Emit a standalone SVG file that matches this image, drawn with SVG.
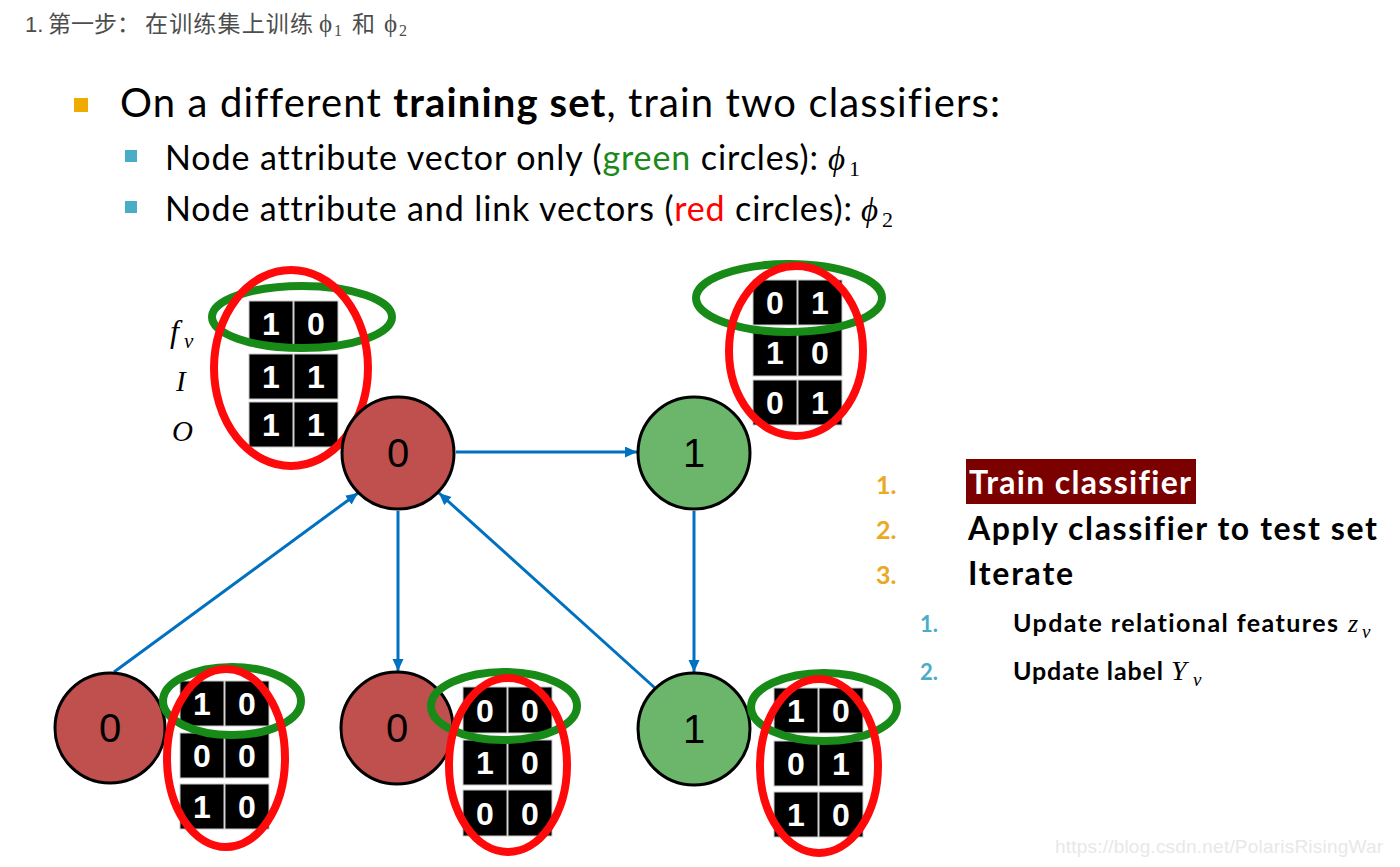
<svg xmlns="http://www.w3.org/2000/svg" width="1400" height="867" viewBox="0 0 1400 867">
<defs>
<style>
.hdr{font-family:"Liberation Sans","Noto Sans CJK SC",sans-serif;font-size:22px;fill:#4d4d4d}
.hdrcjk{font-family:"Noto Sans CJK SC",sans-serif;font-size:23px;fill:#4d4d4d}
.math{font-family:"Liberation Serif","DejaVu Serif",serif;font-style:italic}
.up{font-style:normal}
.slide{font-family:Lato,"Open Sans",sans-serif;fill:#000;font-variant-ligatures:none}
.b{font-weight:bold}
.num{font-family:Lato,"Open Sans",sans-serif;font-weight:bold}
.cell{fill:#000;stroke:#c8c8c8;stroke-width:1}
.dg{font-family:"Liberation Sans",Arial,sans-serif;font-weight:bold;font-size:32px;fill:#fff;text-anchor:middle}
.nl{font-family:"Liberation Sans",Arial,sans-serif;font-size:40px;fill:#000;text-anchor:middle}
.nr{fill:#C0504D;stroke:#000;stroke-width:3}
.ng{fill:#6BB66B;stroke:#000;stroke-width:3}
.eg{fill:none;stroke:#188A18;stroke-width:8}
.er{fill:none;stroke:#FF0A0A;stroke-width:8}
.edge{fill:none;stroke:#0070C0;stroke-width:3}
</style>
<marker id="arr" markerUnits="userSpaceOnUse" markerWidth="14" markerHeight="12" refX="12" refY="5.5" orient="auto">
<path d="M0,0 L12,5.5 L0,11 z" fill="#0070C0"/>
</marker>
</defs>
<rect width="1400" height="867" fill="#fff"/>

<g id="header">
<text class="hdr" x="25" y="32">1.</text>
<text class="hdrcjk" x="48" y="32">第一步：</text>
<text class="hdrcjk" x="145" y="32" textLength="168">在训练集上训练</text>
<text class="math up" x="319" y="32" font-size="25" fill="#4d4d4d">ϕ</text>
<text class="math up" x="334" y="36" font-size="16" fill="#4d4d4d">1</text>
<text class="hdrcjk" x="352" y="32">和</text>
<text class="math up" x="384" y="32" font-size="25" fill="#4d4d4d">ϕ</text>
<text class="math up" x="399" y="36" font-size="16" fill="#4d4d4d">2</text>
</g>

<g id="bullets">
<rect x="74" y="98" width="14" height="14" fill="#F0AB00"/>
<text class="slide" x="120" y="117" font-size="40" textLength="880">On a different <tspan class="b">training set</tspan>, train two classifiers:</text>
<rect x="125" y="150" width="12" height="12" fill="#4BACC6"/>
<text class="slide" x="165" y="170" font-size="34" textLength="653">Node attribute vector only (<tspan fill="#1A8A1A">green</tspan> circles):</text>
<text class="math" x="828" y="170" font-size="33">ϕ</text>
<text class="math up" x="849" y="176" font-size="22">1</text>
<rect x="125" y="201" width="12" height="12" fill="#4BACC6"/>
<text class="slide" x="165" y="221" font-size="34" textLength="687">Node attribute and link vectors (<tspan fill="#FF0000">red</tspan> circles):</text>
<text class="math" x="861" y="221" font-size="33">ϕ</text>
<text class="math up" x="882" y="227" font-size="22">2</text>
</g>

<g id="steps">
<text class="num" x="876" y="494" font-size="25" fill="#EBA821">1.</text>
<rect x="966" y="459" width="230" height="45" fill="#7B0000"/>
<text class="slide b" x="969" y="494" font-size="32" style="fill:#fff" textLength="222">Train classifier</text>
<text class="num" x="876" y="539" font-size="25" fill="#EBA821">2.</text>
<text class="slide b" x="968" y="540" font-size="32" textLength="409">Apply classifier to test set</text>
<text class="num" x="876" y="584" font-size="25" fill="#EBA821">3.</text>
<text class="slide b" x="968" y="585" font-size="32" textLength="105">Iterate</text>
<text class="num" x="920" y="632" font-size="22" fill="#4BACC6">1.</text>
<text class="slide b" x="1013" y="632" font-size="25" textLength="325">Update relational features</text>
<text class="math" x="1348" y="632" font-size="26">z</text>
<text class="math" x="1362" y="638" font-size="19">v</text>
<text class="num" x="920" y="680" font-size="22" fill="#4BACC6">2.</text>
<text class="slide b" x="1013" y="680" font-size="25" textLength="150">Update label</text>
<text class="math" x="1171" y="680" font-size="28">Y</text>
<text class="math" x="1193" y="686" font-size="19">v</text>
</g>

<g id="row-labels">
<text class="math" x="170" y="342" font-size="32">f</text>
<text class="math" x="184" y="348" font-size="21">v</text>
<text class="math" x="176" y="391" font-size="29">I</text>
<text class="math" x="172" y="441" font-size="29">O</text>
</g>

<g id="connectors">
<line class="edge" x1="456" y1="452" x2="637" y2="452" marker-end="url(#arr)"/>
<line class="edge" x1="398" y1="511" x2="398" y2="671" marker-end="url(#arr)"/>
<line class="edge" x1="694" y1="511" x2="694" y2="672" marker-end="url(#arr)"/>
<line class="edge" x1="114" y1="672" x2="358" y2="493" marker-end="url(#arr)"/>
<line class="edge" x1="655" y1="688" x2="439" y2="493" marker-end="url(#arr)"/>
</g>

<g id="node-bl">
<circle class="nr" cx="110" cy="728" r="55"/>
<text class="nl" x="110" y="742">0</text>
</g>
<g id="node-bm">
<circle class="nr" cx="397" cy="728" r="56"/>
<text class="nl" x="397" y="742">0</text>
</g>
<g id="node-br">
<circle class="ng" cx="694" cy="729" r="56"/>
<text class="nl" x="694" y="743">1</text>
</g>

<g id="vec-tl" transform="translate(249,301)">
<rect class="cell" x="0" y="0" width="44" height="45"/><rect class="cell" x="45" y="0" width="44" height="45"/>
<rect class="cell" x="0" y="53" width="44" height="45"/><rect class="cell" x="45" y="53" width="44" height="45"/>
<rect class="cell" x="0" y="101" width="44" height="45"/><rect class="cell" x="45" y="101" width="44" height="45"/>
<text class="dg" x="22" y="34">1</text><text class="dg" x="67" y="34">0</text>
<text class="dg" x="22" y="87">1</text><text class="dg" x="67" y="87">1</text>
<text class="dg" x="22" y="135">1</text><text class="dg" x="67" y="135">1</text>
</g>
<g id="vec-tr" transform="translate(753,280)">
<rect class="cell" x="0" y="0" width="44" height="45"/><rect class="cell" x="45" y="0" width="44" height="45"/>
<rect class="cell" x="0" y="49" width="44" height="47"/><rect class="cell" x="45" y="49" width="44" height="47"/>
<rect class="cell" x="0" y="100" width="44" height="45"/><rect class="cell" x="45" y="100" width="44" height="45"/>
<text class="dg" x="22" y="34">0</text><text class="dg" x="67" y="34">1</text>
<text class="dg" x="22" y="84">1</text><text class="dg" x="67" y="84">0</text>
<text class="dg" x="22" y="134">0</text><text class="dg" x="67" y="134">1</text>
</g>
<g id="vec-bl" transform="translate(180,681)">
<rect class="cell" x="0" y="0" width="44" height="45"/><rect class="cell" x="45" y="0" width="44" height="45"/>
<rect class="cell" x="0" y="52" width="44" height="45"/><rect class="cell" x="45" y="52" width="44" height="45"/>
<rect class="cell" x="0" y="103" width="44" height="45"/><rect class="cell" x="45" y="103" width="44" height="45"/>
<text class="dg" x="22" y="34">1</text><text class="dg" x="67" y="34">0</text>
<text class="dg" x="22" y="86">0</text><text class="dg" x="67" y="86">0</text>
<text class="dg" x="22" y="137">1</text><text class="dg" x="67" y="137">0</text>
</g>
<g id="vec-bm" transform="translate(463,687)">
<rect class="cell" x="0" y="0" width="44" height="46"/><rect class="cell" x="45" y="0" width="44" height="46"/>
<rect class="cell" x="0" y="53" width="44" height="45"/><rect class="cell" x="45" y="53" width="44" height="45"/>
<rect class="cell" x="0" y="103" width="44" height="46"/><rect class="cell" x="45" y="103" width="44" height="46"/>
<text class="dg" x="22" y="35">0</text><text class="dg" x="67" y="35">0</text>
<text class="dg" x="22" y="87">1</text><text class="dg" x="67" y="87">0</text>
<text class="dg" x="22" y="138">0</text><text class="dg" x="67" y="138">0</text>
</g>
<g id="vec-br" transform="translate(774,688)">
<rect class="cell" x="0" y="0" width="44" height="45"/><rect class="cell" x="45" y="0" width="44" height="45"/>
<rect class="cell" x="0" y="53" width="44" height="45"/><rect class="cell" x="45" y="53" width="44" height="45"/>
<rect class="cell" x="0" y="104" width="44" height="45"/><rect class="cell" x="45" y="104" width="44" height="45"/>
<text class="dg" x="22" y="34">1</text><text class="dg" x="67" y="34">0</text>
<text class="dg" x="22" y="87">0</text><text class="dg" x="67" y="87">1</text>
<text class="dg" x="22" y="138">1</text><text class="dg" x="67" y="138">0</text>
</g>

<g id="rings">
<ellipse class="eg" cx="302" cy="317" rx="90" ry="31"/>
<ellipse class="er" cx="291" cy="368" rx="77" ry="98"/>
<ellipse class="eg" cx="789" cy="298" rx="93" ry="34"/>
<ellipse class="er" cx="796" cy="351" rx="67" ry="85"/>
<ellipse class="eg" cx="232" cy="701" rx="69" ry="34"/>
<ellipse class="er" cx="226" cy="758" rx="59" ry="89"/>
<ellipse class="eg" cx="504" cy="706" rx="73" ry="34"/>
<ellipse class="er" cx="508" cy="765" rx="59" ry="87"/>
<ellipse class="eg" cx="824" cy="707" rx="73" ry="34"/>
<ellipse class="er" cx="819" cy="766" rx="59" ry="87"/>
</g>

<g id="node-tl">
<circle class="nr" cx="398" cy="453" r="56"/>
<text class="nl" x="398" y="467">0</text>
</g>
<g id="node-tr">
<circle class="ng" cx="694" cy="453" r="56"/>
<text class="nl" x="694" y="467">1</text>
</g>

<text x="1055" y="853" font-family="Liberation Sans,Arial,sans-serif" font-size="19" fill="#e8e8e8" textLength="328">https://blog.csdn.net/PolarisRisingWar</text>
</svg>
